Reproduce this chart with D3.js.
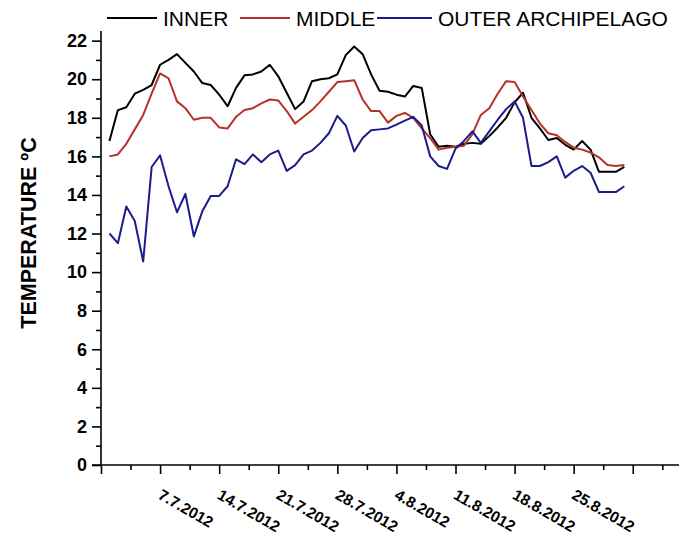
<!DOCTYPE html>
<html>
<head>
<meta charset="utf-8">
<script src="https://cdn.jsdelivr.net/npm/d3@7"></script>
<style>
  html, body { margin: 0; padding: 0; background: #fff; }
  svg { display: block; font-family: "Liberation Sans", Arial, sans-serif; }
</style>
</head>
<body>
<svg id="chart" width="679" height="537"></svg>
<script>
// Daily mean water temperature, 1.7.2012 – 31.8.2012
const firstDay = "1.7.2012";
const lastDay = "31.8.2012";

const inner = [
  16.8, 18.4, 18.55, 19.25, 19.45, 19.7, 20.75, 21.0, 21.3, 20.85,
  20.4, 19.8, 19.7, 19.2, 18.6, 19.55, 20.2, 20.25, 20.4, 20.75,
  20.15, 19.3, 18.45, 18.85, 19.9, 20.0, 20.05, 20.25, 21.25, 21.7,
  21.3, 20.25, 19.4, 19.35, 19.2, 19.1, 19.65, 19.55, 17.15, 16.5,
  16.55, 16.5, 16.65, 16.7, 16.65, 17.05, 17.5, 18.0, 18.8, 19.3,
  18.0, 17.45, 16.85, 16.95, 16.6, 16.35, 16.8, 16.35, 15.2, 15.2,
  15.2, 15.45
];

const middle = [
  16.0, 16.1, 16.65, 17.4, 18.15, 19.25, 20.3, 20.05, 18.85, 18.5,
  17.9, 18.0, 18.0, 17.5, 17.45, 18.05, 18.4, 18.5, 18.75, 18.95,
  18.9, 18.35, 17.7, 18.05, 18.4, 18.85, 19.35, 19.85, 19.9, 19.95,
  18.95, 18.35, 18.35, 17.75, 18.1, 18.25, 18.0, 17.45, 16.95, 16.35,
  16.45, 16.5, 16.55, 17.15, 18.15, 18.5, 19.25, 19.9, 19.85, 19.1,
  18.4, 17.7, 17.2, 17.1, 16.75, 16.45, 16.35, 16.2, 15.95, 15.55,
  15.5, 15.55
];

const outer = [
  12.0, 11.5, 13.4, 12.65, 10.55, 15.45, 16.05, 14.45, 13.1, 14.05,
  11.85, 13.15, 13.95, 13.95, 14.45, 15.85, 15.6, 16.1, 15.7, 16.1,
  16.3, 15.25, 15.55, 16.1, 16.3, 16.7, 17.2, 18.1, 17.6, 16.25,
  16.95, 17.35, 17.4, 17.45, 17.65, 17.85, 18.05, 17.6, 16.0, 15.5,
  15.35, 16.4, 16.8, 17.3, 16.7, 17.3, 17.9, 18.45, 18.85, 18.0,
  15.5, 15.5, 15.7, 16.0, 14.9, 15.25, 15.5, 15.15, 14.15, 14.15,
  14.15, 14.45
];

const seriesNames = ["INNER", "MIDDLE", "OUTER ARCHIPELAGO"];
const seriesColors = ["#000000", "#b5312c", "#1b1b8a"];

const xMajorTicks = ["30.6.2012", "7.7.2012", "14.7.2012", "21.7.2012", "28.7.2012",
                     "4.8.2012", "11.8.2012", "18.8.2012", "25.8.2012", "1.9.2012"];
const xLabelled = ["7.7.2012", "14.7.2012", "21.7.2012", "28.7.2012",
                   "4.8.2012", "11.8.2012", "18.8.2012", "25.8.2012"];
const yMajorTicks = [0, 2, 4, 6, 8, 10, 12, 14, 16, 18, 20, 22];
const yMinorTicks = [1, 3, 5, 7, 9, 11, 13, 15, 17, 19, 21];
const yTitle = "TEMPERATURE \u00BAC";

const parse = d3.timeParse("%d.%m.%Y");
const fmt = d3.timeFormat("%-d.%-m.%Y");

const days = d3.timeDay.range(parse(firstDay), d3.timeDay.offset(parse(lastDay), 1));
const svg = d3.select("#chart");

const x = d3.scaleTime()
  .domain([parse("30.6.2012"), parse("7.9.2012")])
  .range([101, 683.4]);
const y = d3.scaleLinear().domain([0, 22.5]).range([465, 31]);

// minor x ticks halfway between weekly majors
const majorDates = xMajorTicks.map(parse);
const minorDates = majorDates.map(d => d3.timeHour.offset(d, 84));

const axisStroke = 1.6;

// x axis
const gx = svg.append("g").attr("transform", `translate(0,${y(0)})`);
gx.append("line").attr("x1", 92).attr("x2", 679).attr("y1", 0).attr("y2", 0)
  .attr("stroke", "#000").attr("stroke-width", axisStroke);
gx.call(d3.axisBottom(x).tickValues(majorDates).tickSize(9).tickFormat(""))
  .call(g => g.select(".domain").remove())
  .call(g => g.selectAll("line").attr("stroke-width", axisStroke));
gx.append("g").call(d3.axisBottom(x).tickValues(minorDates).tickSize(5).tickFormat(""))
  .call(g => g.select(".domain").remove())
  .call(g => g.selectAll("line").attr("stroke-width", axisStroke));

gx.selectAll("text.xlab")
  .data(xLabelled.map(parse))
  .join("text")
  .attr("class", "xlab")
  .attr("text-anchor", "start")
  .attr("transform", d => `translate(${x(d) - 3},${33}) rotate(30)`)
  .attr("font-size", 15.5)
  .attr("font-weight", "bold")
  .attr("fill", "#000")
  .text(d => fmt(d));

// y axis
const gy = svg.append("g").attr("transform", `translate(${x(parse("30.6.2012"))},0)`);
gy.append("line").attr("x1", 0).attr("x2", 0).attr("y1", y(22.5)).attr("y2", y(0))
  .attr("stroke", "#000").attr("stroke-width", axisStroke);
gy.call(d3.axisLeft(y).tickValues(yMajorTicks).tickSize(9).tickPadding(5))
  .call(g => g.select(".domain").remove())
  .call(g => g.selectAll("line").attr("stroke-width", axisStroke))
  .call(g => g.selectAll("text")
    .attr("font-size", 18).attr("font-weight", "bold")
    .attr("font-family", "'Liberation Sans', Arial, sans-serif").attr("fill", "#000"));
gy.append("g").call(d3.axisLeft(y).tickValues(yMinorTicks).tickSize(5).tickFormat(""))
  .call(g => g.select(".domain").remove())
  .call(g => g.selectAll("line").attr("stroke-width", axisStroke));

svg.append("text")
  .attr("transform", `translate(36,233) rotate(-90)`)
  .attr("text-anchor", "middle")
  .attr("font-size", 21.5)
  .attr("font-weight", "bold")
  .text(yTitle);

// series lines
const allSeries = [inner, middle, outer];
const line = d3.line()
  .x((d, i) => x(days[i]))
  .y(d => y(d));

const defs = svg.append("defs");
defs.append("filter").attr("id", "soft")
  .append("feGaussianBlur").attr("stdDeviation", 0.5);

allSeries.forEach((vals, k) => {
  svg.append("path")
    .datum(vals)
    .attr("d", line)
    .attr("fill", "none")
    .attr("stroke", seriesColors[k])
    .attr("stroke-width", 2)
    .attr("stroke-linejoin", "round")
    .attr("filter", "url(#soft)");
});

// legend
const legendItems = [
  { x1: 107, x2: 157, tx: 163 },
  { x1: 240, x2: 290, tx: 296 },
  { x1: 377, x2: 432, tx: 438 }
];
const lg = svg.append("g");
legendItems.forEach((it, k) => {
  lg.append("line")
    .attr("x1", it.x1).attr("x2", it.x2).attr("y1", 18).attr("y2", 18)
    .attr("stroke", seriesColors[k]).attr("stroke-width", 2);
  lg.append("text")
    .attr("x", it.tx).attr("y", 26)
    .attr("font-size", 21)
    .attr("fill", "#000")
    .text(seriesNames[k]);
});
</script>
</body>
</html>
